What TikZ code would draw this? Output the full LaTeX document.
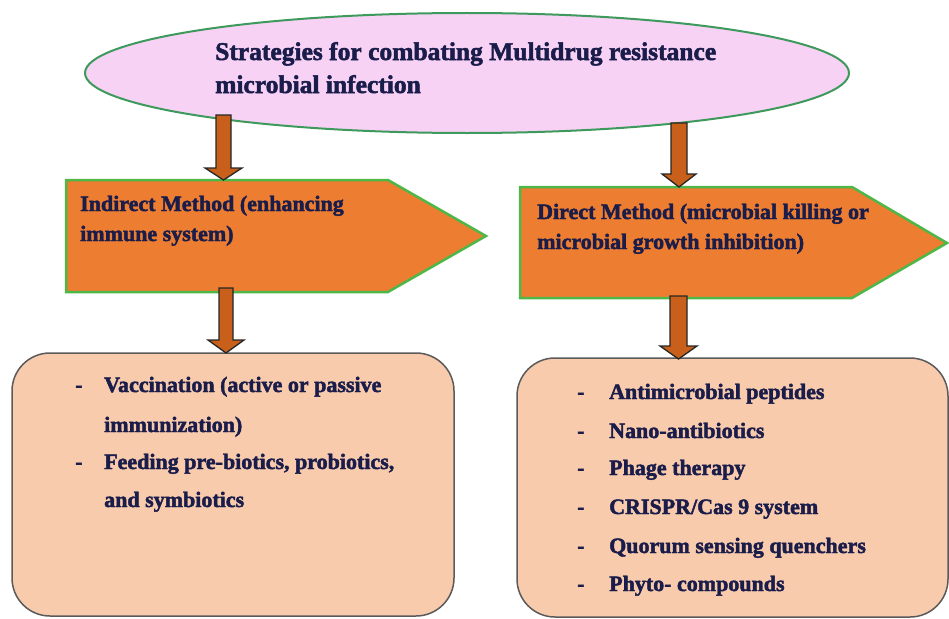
\documentclass[tikz,border=0pt]{standalone}
\usepackage{fontspec}
\setmainfont{Liberation Serif}[BoldFeatures={FakeBold=2}]
\usetikzlibrary{shapes.geometric}
\definecolor{txt}{HTML}{1A1C4A}
\definecolor{ellfill}{HTML}{F7D2F5}
\definecolor{ellline}{HTML}{3E9A5C}
\definecolor{pentfill}{HTML}{ED7D31}
\definecolor{pentline}{HTML}{4DB848}
\definecolor{boxfill}{HTML}{F8CBAD}
\definecolor{boxline}{HTML}{5A5A5A}
\definecolor{arrfill}{HTML}{C8601C}
\tikzset{
  lbl/.style={anchor=base west, inner sep=0pt, text=txt, font=\bfseries},
  ttl/.style={lbl, font=\fontsize{25.5}{30}\selectfont\bfseries},
  mth/.style={lbl, font=\fontsize{22}{26}\selectfont\bfseries},
  itm/.style={lbl, font=\fontsize{22}{26}\selectfont\bfseries},
  pent/.style={fill=pentfill, draw=pentline, line width=2.5pt, line join=miter},
  itembox/.style={fill=boxfill, draw=boxline, line width=1.5pt, rounded corners=38pt},
  barrow/.style={fill=arrfill, draw=black!85, line width=1.3pt, line join=miter},
}
\newcommand{\blockarrow}[7]{% xl xr ytop yshaft hl hr ytip
  \draw[barrow] (#1,#3) -- (#2,#3) -- (#2,#4) -- (#6,#4) -- ({(#1+#2)/2},#7) -- (#5,#4) -- (#1,#4) -- cycle;}
\begin{document}
\begin{tikzpicture}[x=1pt,y=-1pt]
\useasboundingbox (0,0) rectangle (949,618);
% top ellipse
\node (top) [draw=ellline, fill=ellfill, line width=2pt, ellipse, minimum width=764pt, minimum height=120pt, inner sep=0pt] at (467,73) {};
\node (t1) [ttl] at (215,60) {Strategies for combating Multidrug resistance};
\node (t2) [ttl] at (215,93) {microbial infection};
% pentagons
\draw[pent] (66,180) -- (388,180) -- (486,236) -- (388,292) -- (66,292) -- cycle;
\node (m1) [mth] at (80,211) {Indirect Method (enhancing};
\node (m2) [mth] at (80,241) {immune system)};
\draw[pent] (520,187) -- (852,187) -- (947,243) -- (852,298) -- (520,298) -- cycle;
\node (m3) [mth] at (537,219) {Direct Method (microbial killing or};
\node (m4) [mth] at (537,249) {microbial growth inhibition)};
% boxes
\draw[itembox] (12,353) rectangle (454,616);
\draw[itembox] (517,358) rectangle (948,617);
\node (ld1) [itm] at (75,392) {-};
\node (l1) [itm] at (104,392) {Vaccination (active or passive};
\node (l2) [itm] at (104,432) {immunization)};
\node (ld2) [itm] at (75,469) {-};
\node (l3) [itm] at (104,469) {Feeding pre-biotics, probiotics,};
\node (l4) [itm] at (104,507) {and symbiotics};
\node (rd1) [itm] at (577,399) {-};
\node (r1) [itm] at (609,399) {Antimicrobial peptides};
\node (rd2) [itm] at (577,438) {-};
\node (r2) [itm] at (609,438) {Nano-antibiotics};
\node (rd3) [itm] at (577,475) {-};
\node (r3) [itm] at (609,475) {Phage therapy};
\node (rd4) [itm] at (577,514) {-};
\node (r4) [itm] at (609,514) {CRISPR/Cas 9 system};
\node (rd5) [itm] at (577,553) {-};
\node (r5) [itm] at (609,553) {Quorum sensing quenchers};
\node (rd6) [itm] at (577,591) {-};
\node (r6) [itm] at (609,591) {Phyto- compounds};
% block arrows
\blockarrow{216}{231}{115}{168}{205}{242}{180}
\blockarrow{671}{687}{123}{174}{662}{696}{187}
\blockarrow{219}{233}{288}{340}{208}{244}{353}
\blockarrow{670}{687}{296}{346}{660}{697}{359}
\end{tikzpicture}
\end{document}
